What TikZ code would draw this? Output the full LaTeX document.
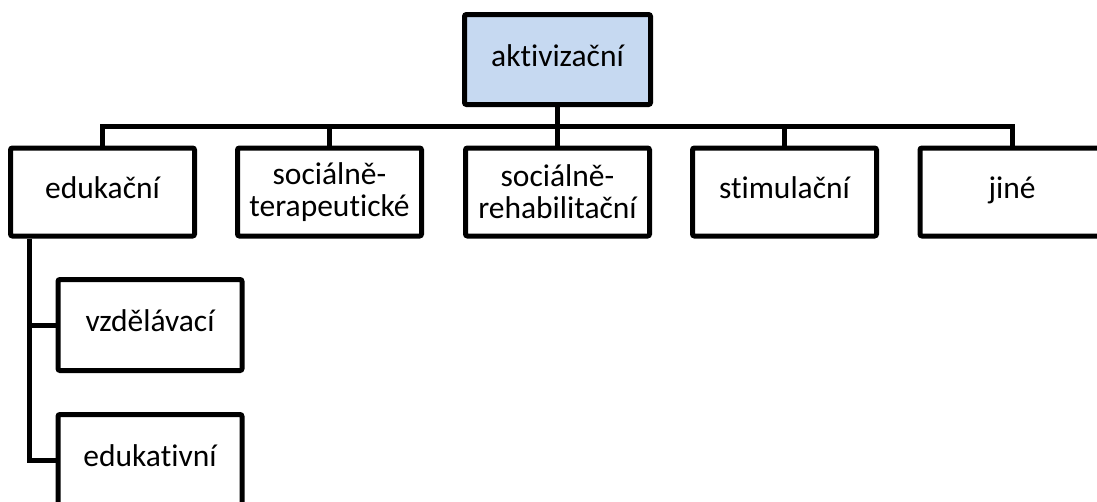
\documentclass[tikz,border=0pt]{standalone}
\usepackage{fontspec}
\setmainfont{Carlito}[Ligatures={NoCommon}]
\definecolor{topfill}{HTML}{C6D9F1}
\begin{document}
\begin{tikzpicture}[x=1pt,y=-1pt,
  box/.style={draw=black, line width=5pt, rounded corners=2pt, fill=white,
    minimum width=184pt, minimum height=88pt, inner sep=2pt, align=center,
    font=\fontsize{31.5pt}{32pt}\selectfont},
  one/.style={text height=21pt, text depth=8pt},
  conn/.style={draw=black, line width=5pt}]
\useasboundingbox (0,0) rectangle (1097,501);
\node[box, one, fill=topfill, minimum width=186pt, minimum height=90pt] (top) at (557.5,59.5) {aktivizační};
\node[box, one] (edu) at (102.5,192) {edukační};
\node[box] (soct) at (329.5,192) {sociálně-\\terapeutické};
\node[box] (socr) at (557.5,192) {sociálně-\\rehabilitační};
\node[box, one] (stim) at (784.5,192) {stimulační};
\node[box, one] (jine) at (1012,192) {jiné};
\node[box, one, minimum height=91pt] (vzd) at (150,325) {vzdělávací};
\node[box, one, minimum height=91pt] (eduk) at (150,460) {edukativní};
\coordinate (bus) at (0,126);
\coordinate (spine) at (29,0);
\draw[conn] (edu.north) |- (bus -| jine.north) -- (jine.north);
\draw[conn] (top.south) -- (socr.north);
\draw[conn] (soct.north) -- (soct.north |- bus);
\draw[conn] (stim.north) -- (stim.north |- bus);
\draw[conn] (spine |- edu.south) |- (vzd.west);
\draw[conn] (spine |- vzd.west) |- (eduk.west);
\end{tikzpicture}
\end{document}
